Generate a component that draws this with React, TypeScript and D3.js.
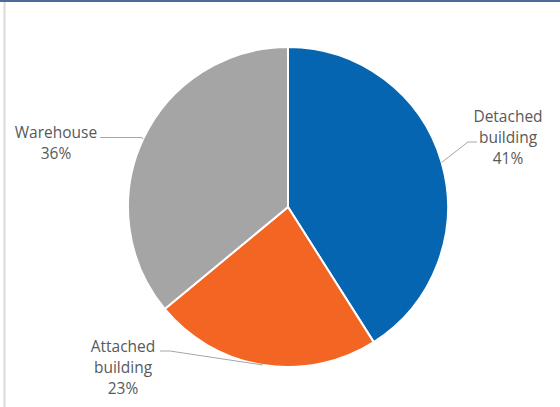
import React from "react";
import * as d3 from "d3";

const categories = ["Detached building", "Attached building", "Warehouse"];
const labelLines = [["Detached", "building", "41%"], ["Attached", "building", "23%"], ["Warehouse", "36%"]];
const values = [41, 23, 36];
const colors = ["#0565B1", "#F26522", "#A5A5A5"];

// layout for labels: elbow and end of leader, text center x and first baseline
const labelLayout = [
  { elbow: [468, 142], end: [477, 142], tx: 508, ty: 122 },
  { elbow: [170, 351], end: [160, 351], tx: 123, ty: 352 },
  { elbow: [141, 137.5], end: [100, 137.5], tx: 56, ty: 138 },
];

const W = 560;
const H = 407;
const cx = 288;
const cy = 207;
const R = 160;

export default function App() {
  const pie = d3.pie<number>().sort(null).value((d) => d).startAngle(0).endAngle(2 * Math.PI);
  const arcs = pie(values);
  const arcGen = d3.arc<d3.PieArcDatum<number>>().innerRadius(0).outerRadius(R);
  return (
    <svg width={W} height={H} style={{ position: "absolute", left: 0, top: 0 }} fontFamily="'Open Sans', sans-serif">
      <rect x={0} y={0} width={W} height={H} fill="#fff" />
      <rect x={0} y={0} width={W} height={2} fill="#4A6A9C" />
      <line x1={4.5} y1={2} x2={4.5} y2={H} stroke="#D9D9D9" strokeWidth={2} />
      <g transform={`translate(${cx},${cy})`}>
        {arcs.map((a, i) => (
          <path key={categories[i]} d={arcGen(a) || ""} fill={colors[i]} stroke="#fff" strokeWidth={2} strokeLinejoin="round" />
        ))}
      </g>
      {arcs.map((a, i) => {
        const mid = (a.startAngle + a.endAngle) / 2;
        const sx = cx + Math.sin(mid) * R;
        const sy = cy - Math.cos(mid) * R;
        const L = labelLayout[i];
        return (
          <g key={"l" + i}>
            <polyline
              points={`${sx},${sy} ${L.elbow[0]},${L.elbow[1]} ${L.end[0]},${L.end[1]}`}
              fill="none"
              stroke="#A6A6A6"
              strokeWidth={1}
            />
            <text x={L.tx} y={L.ty} textAnchor="middle" fontSize={15.5} fill="#595959">
              {labelLines[i].map((t, j) => (
                <tspan key={j} x={L.tx} y={L.ty + j * 21}>
                  {t}
                </tspan>
              ))}
            </text>
          </g>
        );
      })}
    </svg>
  );
}
